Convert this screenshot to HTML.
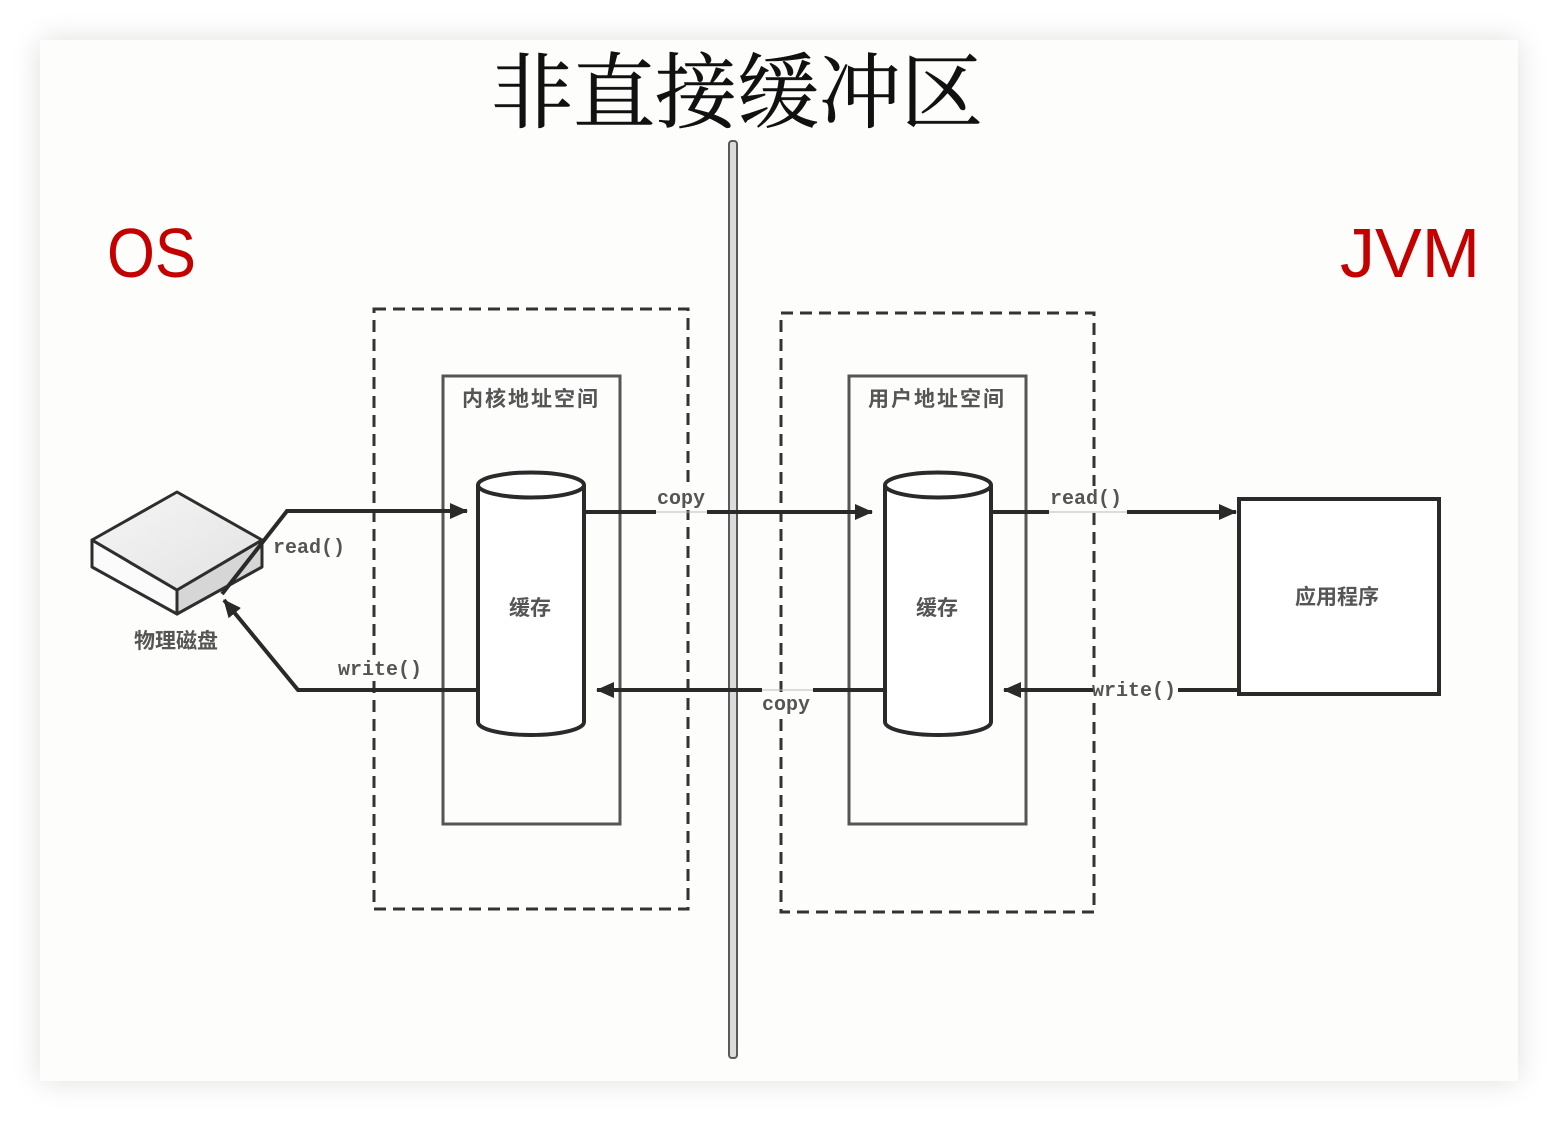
<!DOCTYPE html>
<html><head><meta charset="utf-8">
<style>
html,body{margin:0;padding:0;background:#fff;}
body{width:1558px;height:1122px;position:relative;overflow:hidden;}
.panel{position:absolute;left:40px;top:40px;width:1478px;height:1041px;background:#fdfdfc;box-shadow:0 0 28px rgba(0,0,0,0.13);}
svg{position:absolute;left:0;top:0;}
</style></head>
<body>
<div class="panel"></div>
<svg width="1558" height="1122" viewBox="0 0 1558 1122" xmlns="http://www.w3.org/2000/svg">
<defs>
<marker id="ah" markerUnits="userSpaceOnUse" markerWidth="18" markerHeight="16" refX="17" refY="8" orient="auto">
<path d="M0,0 L18,8 L0,16 z" fill="#2a2a2a"/>
</marker>
<linearGradient id="topg" x1="0" y1="0" x2="1" y2="1">
<stop offset="0" stop-color="#f6f6f6"/><stop offset="1" stop-color="#e2e2e2"/>
</linearGradient>
</defs>

<!-- Title -->
<text x="737" y="121" font-family="'Liberation Serif','Noto Serif CJK SC',serif" font-size="82" fill="#111" text-anchor="middle" stroke="#111" stroke-width="0.6">非直接缓冲区</text>

<!-- OS / JVM -->
<text x="107" y="277" font-family="'Liberation Sans',sans-serif" font-size="70" fill="#c40000" textLength="89" lengthAdjust="spacingAndGlyphs">OS</text>
<text x="1340" y="277" font-family="'Liberation Sans',sans-serif" font-size="70" fill="#c40000" textLength="140" lengthAdjust="spacingAndGlyphs">JVM</text>

<!-- center divider -->
<rect x="729" y="141" width="8" height="917" rx="3" fill="#dcdcdc" stroke="#5a5a5a" stroke-width="2"/>

<!-- dashed boxes -->
<rect x="374" y="309" width="314" height="600" fill="none" stroke="#333" stroke-width="3" stroke-dasharray="12,7"/>
<rect x="781" y="313" width="313" height="599" fill="none" stroke="#333" stroke-width="3" stroke-dasharray="12,7"/>

<!-- inner boxes -->
<rect x="443" y="376" width="177" height="448" fill="none" stroke="#555" stroke-width="3"/>
<rect x="849" y="376" width="177" height="448" fill="none" stroke="#555" stroke-width="3"/>
<text x="531" y="406" font-family="'Liberation Sans','Noto Sans CJK SC',sans-serif" font-size="21" font-weight="bold" fill="#555" text-anchor="middle" letter-spacing="2">内核地址空间</text>
<text x="937" y="406" font-family="'Liberation Sans','Noto Sans CJK SC',sans-serif" font-size="21" font-weight="bold" fill="#555" text-anchor="middle" letter-spacing="2">用户地址空间</text>

<!-- cylinders -->
<g fill="#fff" stroke="#2a2a2a" stroke-width="4">
<path d="M478,485 L478,722 A53,13 0 0 0 584,722 L584,485"/>
<ellipse cx="531" cy="485" rx="53" ry="12.5"/>
<path d="M885,485 L885,722 A53,13 0 0 0 991,722 L991,485"/>
<ellipse cx="938" cy="485" rx="53" ry="12.5"/>
</g>
<text x="530" y="615" font-family="'Liberation Sans','Noto Sans CJK SC',sans-serif" font-size="21" font-weight="bold" fill="#555" text-anchor="middle">缓存</text>
<text x="937" y="615" font-family="'Liberation Sans','Noto Sans CJK SC',sans-serif" font-size="21" font-weight="bold" fill="#555" text-anchor="middle">缓存</text>

<!-- disk -->
<g stroke="#2e2e2e" stroke-width="3" stroke-linejoin="round">
<polygon points="92,567 92,540 177,590 177,614" fill="#fbfbfb"/>
<polygon points="177,590 262,540 262,567 177,614" fill="#d6d6d6"/>
<polygon points="92,540 177,492 262,540 177,590" fill="url(#topg)"/>
</g>
<text x="176" y="648" font-family="'Liberation Sans','Noto Sans CJK SC',sans-serif" font-size="21" font-weight="bold" fill="#555" text-anchor="middle">物理磁盘</text>

<!-- app box -->
<rect x="1239" y="499" width="200" height="195" fill="#fff" stroke="#2a2a2a" stroke-width="4"/>
<text x="1337" y="604" font-family="'Liberation Sans','Noto Sans CJK SC',sans-serif" font-size="21" font-weight="bold" fill="#555" text-anchor="middle">应用程序</text>

<!-- label backgrounds (hide dashed lines behind text) -->
<g fill="#fdfdfc">
<rect x="655" y="486" width="52" height="24"/>
<rect x="1048" y="486" width="78" height="24"/>
<rect x="336" y="657" width="88" height="24"/>
<rect x="760" y="692" width="54" height="24"/>
<rect x="1090" y="679" width="88" height="22"/>
<rect x="271" y="535" width="76" height="24"/>
</g>

<!-- connectors -->
<g fill="none" stroke="#2a2a2a" stroke-width="4" stroke-linejoin="miter">
<polyline points="222,594 287,511 467,511" marker-end="url(#ah)"/>
<line x1="584" y1="512" x2="656" y2="512"/>
<line x1="707" y1="512" x2="872" y2="512" marker-end="url(#ah)"/>
<line x1="991" y1="512" x2="1049" y2="512"/>
<line x1="1127" y1="512" x2="1236" y2="512" marker-end="url(#ah)"/>
<line x1="1238" y1="690" x2="1178" y2="690"/>
<line x1="1094" y1="690" x2="1004" y2="690" marker-end="url(#ah)"/>
<line x1="884" y1="690" x2="813" y2="690"/>
<line x1="762" y1="690" x2="597" y2="690" marker-end="url(#ah)"/>
<polyline points="477,690 298,690 224,600" marker-end="url(#ah)"/>
</g>
<g stroke="#bbb" stroke-width="1">
<line x1="656" y1="512" x2="707" y2="512"/>
<line x1="1049" y1="512" x2="1127" y2="512"/>
<line x1="762" y1="690" x2="813" y2="690"/>
</g>

<!-- connector labels -->
<g font-family="'Liberation Mono',monospace" font-size="20" font-weight="bold" fill="#555">
<text x="273" y="553">read()</text>
<text x="657" y="504">copy</text>
<text x="1050" y="504">read()</text>
<text x="338" y="675">write()</text>
<text x="762" y="710">copy</text>
<text x="1092" y="696">write()</text>
</g>
</svg>
</body></html>
